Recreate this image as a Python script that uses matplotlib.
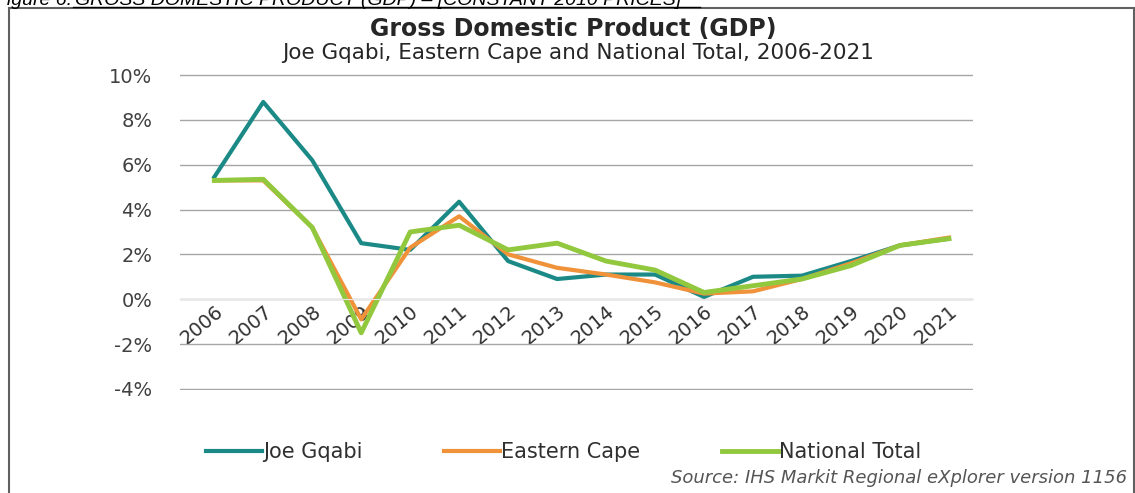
import matplotlib.pyplot as plt
from matplotlib.patches import Rectangle
from matplotlib.ticker import FuncFormatter

years = [str(y) for y in range(2006, 2022)]
joe_gqabi = [5.45, 8.8, 6.2, 2.5, 2.2, 4.35, 1.7, 0.9, 1.1, 1.1, 0.1, 1.0, 1.05, 1.7, 2.4, 2.7]
eastern_cape = [5.3, 5.3, 3.2, -0.9, 2.3, 3.7, 2.0, 1.4, 1.1, 0.75, 0.25, 0.35, 0.9, 1.6, 2.4, 2.75]
national = [5.3, 5.35, 3.2, -1.5, 3.0, 3.3, 2.2, 2.5, 1.7, 1.3, 0.3, 0.6, 0.9, 1.5, 2.4, 2.7]

fig = plt.figure(figsize=(11.35, 4.93), dpi=100)
ax = fig.add_axes([0.1586, 0.209, 0.699, 0.641])

x = range(len(years))
ax.plot(x, joe_gqabi, color='#1b8a86', lw=3, label='Joe Gqabi')
ax.plot(x, eastern_cape, color='#f0923a', lw=3, label='Eastern Cape')
ax.plot(x, national, color='#92c83e', lw=3.5, label='National Total')

ax.set_xlim(-0.7, 15.5)
ax.set_ylim(-4.05, 10.05)
ax.set_yticks(range(-4, 11, 2))
ax.yaxis.set_major_formatter(FuncFormatter(lambda v, p: f'{v:.0f}%'))
ax.grid(axis='y', color='#a6a6a6', lw=1)
ax.set_axisbelow(True)
for s in ['top', 'right', 'left']:
    ax.spines[s].set_visible(False)
ax.spines['bottom'].set_position(('data', 0))
ax.spines['bottom'].set_color('#e6e6e6')
ax.set_xticks(list(x))
ax.set_xticklabels(years, rotation=40, ha='right', rotation_mode='anchor')
ax.tick_params(axis='x', length=0, pad=2, labelsize=14, labelcolor='#303030')
ax.tick_params(axis='y', length=0, pad=20, labelsize=14, labelcolor='#404040')

fig.text(0.505, 0.941, 'Gross Domestic Product (GDP)', ha='center', va='center',
         fontsize=17, fontweight='bold', color='#262626')
fig.text(0.509, 0.893, 'Joe Gqabi, Eastern Cape and National Total, 2006-2021', ha='center',
         va='center', fontsize=15.5, color='#262626')

leg = fig.legend(loc='center left', bbox_to_anchor=(0.165, 0.083), ncol=3, frameon=False,
                 fontsize=15, handlelength=2.7, handletextpad=0.05, columnspacing=3.9)
for t in leg.get_texts():
    t.set_color('#303030')

fig.text(0.993, 0.03, 'Source: IHS Markit Regional eXplorer version 1156', ha='right',
         va='center', fontsize=13, style='italic', color='#555555')

fig.text(0.063, 1 - 5 / 493, 'Figure 6:', ha='right', va='baseline', fontsize=14,
         style='italic', family='Liberation Sans')
fig.text(0.066, 1 - 5 / 493, 'GROSS DOMESTIC PRODUCT (GDP) \u2013 [CONSTANT 2010 PRICES]',
         ha='left', va='baseline', fontsize=14, style='italic', family='Liberation Sans')
fig.lines.append(plt.Line2D([0.064, 0.617], [1 - 7 / 493] * 2, transform=fig.transFigure,
                            color='black', lw=1))

fig.patches.append(Rectangle((9 / 1135, -0.05), 1125 / 1135, 1.05 - 8 / 493,
                             transform=fig.transFigure, fill=False, ec='#606060', lw=1.5))

fig.savefig('out.png', dpi=100)
